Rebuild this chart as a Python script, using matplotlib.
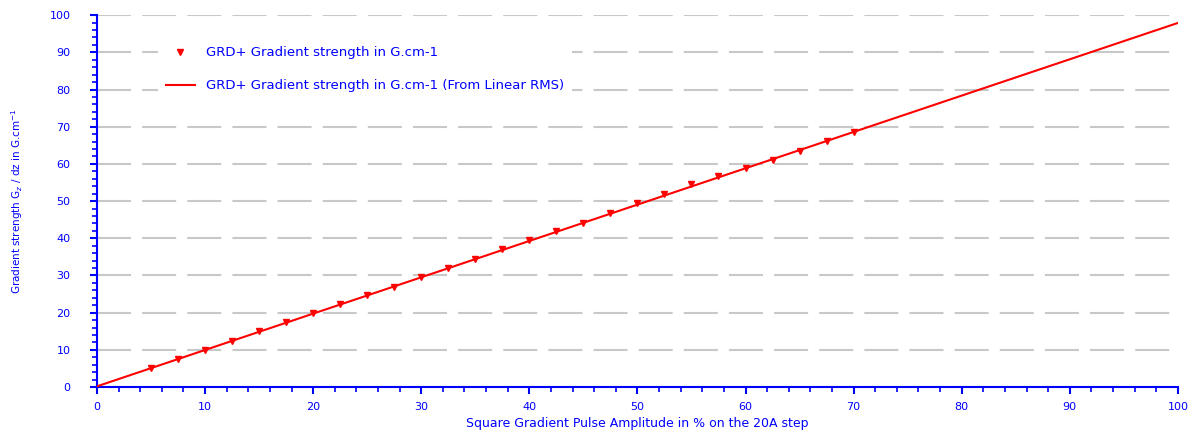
import numpy as np
import matplotlib.pyplot as plt
from matplotlib.ticker import MultipleLocator

# measured gradient strength vs. pulse amplitude
amplitude = [5, 7.5, 10, 12.5, 15, 17.5, 20, 22.5, 25, 27.5, 30, 32.5, 35,
             37.5, 40, 42.5, 45, 47.5, 50, 52.5, 55, 57.5, 60, 62.5, 65,
             67.5, 70]
strength = [5.1, 7.5, 9.9, 12.4, 15.0, 17.5, 19.8, 22.4, 24.7, 27.0, 29.6,
            32.0, 34.4, 37.1, 39.5, 41.9, 44.1, 46.8, 49.5, 51.9, 54.6,
            56.7, 58.9, 61.0, 63.4, 66.1, 68.5]

# linear RMS fit line
fit_x = [0, 100]
fit_y = [0.2, 97.9]

BLUE = '#0000ff'
RED = '#ff0000'

plt.rcParams['lines.scale_dashes'] = False

fig = plt.figure(figsize=(11.91, 4.32), dpi=100)
ax = fig.add_axes([0.0814, 0.104, 0.9076, 0.861])

ax.plot(fit_x, fit_y, color=RED, lw=1.5, zorder=3,
        label='GRD+ Gradient strength in G.cm-1 (From Linear RMS)')
ax.plot(amplitude, strength, ls='none', marker='v', ms=4.5, color=RED,
        zorder=4, label='GRD+ Gradient strength in G.cm-1')

ax.set_xlim(0, 100)
ax.set_ylim(0, 100)
ax.xaxis.set_major_locator(MultipleLocator(10))
ax.xaxis.set_minor_locator(MultipleLocator(2))
ax.yaxis.set_major_locator(MultipleLocator(10))
ax.yaxis.set_minor_locator(MultipleLocator(2))

ax.yaxis.grid(True, which='major', color='#c8c8c8', lw=1.5,
              dashes=(24.5, 8))
ax.set_axisbelow(True)

for side in ['top', 'right']:
    ax.spines[side].set_visible(False)
for side in ['left', 'bottom']:
    ax.spines[side].set_color(BLUE)
    ax.spines[side].set_linewidth(1.5)

ax.tick_params(which='both', colors=BLUE, labelcolor=BLUE, direction='out')
ax.tick_params(which='major', length=5, width=1.5, labelsize=8)
ax.tick_params(which='minor', length=3.5, width=1.2)
ax.tick_params(axis='y', which='major', pad=14)
ax.tick_params(axis='x', which='major', pad=6)

ax.set_xlabel('Square Gradient Pulse Amplitude in % on the 20A step',
              color=BLUE, fontsize=9, labelpad=3)
ax.set_ylabel('Gradient strength G$_z$ / dz in G.cm$^{-1}$',
              color=BLUE, fontsize=7.5, labelpad=18)

handles, labels = ax.get_legend_handles_labels()
leg = ax.legend(handles[::-1], labels[::-1], loc='upper left',
                bbox_to_anchor=(0.05, 0.955), frameon=True, fontsize=9.5,
                handlelength=2.2, labelspacing=1.5, borderpad=0.6,
                handletextpad=0.9)
leg.get_frame().set_edgecolor('none')
leg.get_frame().set_facecolor('white')
leg.get_frame().set_alpha(1)
for t in leg.get_texts():
    t.set_color(BLUE)

fig.savefig('out.png', dpi=100)
